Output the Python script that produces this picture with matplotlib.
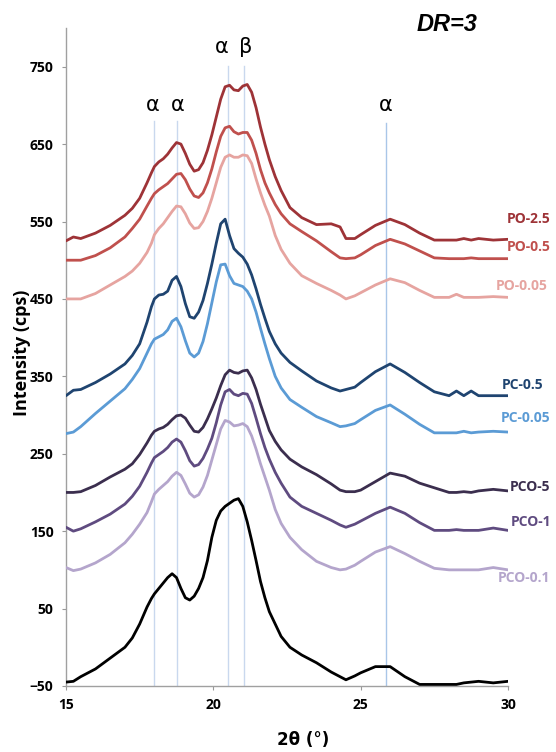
import matplotlib
matplotlib.use("Agg")
import matplotlib.pyplot as plt

# 2-theta (degrees)
two_theta = [15, 15.25, 15.5, 16, 16.5, 17, 17.25, 17.5, 17.75, 17.9,
             18.0, 18.15, 18.3, 18.45, 18.6, 18.75, 18.9, 19.05, 19.2, 19.35,
             19.5, 19.65, 19.8, 19.95, 20.1, 20.25, 20.4, 20.55, 20.7, 20.85,
             21.0, 21.15, 21.3, 21.45, 21.6, 21.75, 21.9, 22.1, 22.3, 22.6,
             23, 23.5, 24, 24.3, 24.5, 24.8, 25, 25.5, 26, 26.5,
             27, 27.5, 28, 28.25, 28.5, 28.75, 29, 29.5, 30]

po_2_5 = [525, 530, 528, 535, 545, 558, 567, 580, 600, 613,
          621, 627, 631, 637, 645, 652, 650, 638, 624, 615,
          617, 626, 642, 662, 685, 708, 724, 726, 720, 719,
          725, 727, 717, 697, 672, 650, 630, 608, 590, 568,
          555, 546, 547, 543, 528, 528, 533, 545, 553, 546,
          535, 526, 526, 526, 528, 526, 528, 526, 527]
po_0_5 = [500, 500, 500, 506, 516, 530, 541, 553, 570, 580,
          586, 591, 595, 599, 605, 611, 612, 604, 592, 583,
          581, 587, 600, 618, 640, 660, 671, 673, 666, 663,
          665, 665, 655, 638, 617, 600, 587, 572, 560, 547,
          537, 525, 511, 503, 502, 503, 507, 519, 527, 521,
          512, 503, 502, 502, 502, 503, 502, 502, 502]
po_0_05 = [450, 450, 450, 457, 468, 479, 486, 496, 510, 522,
           533, 541, 547, 555, 563, 570, 569, 560, 548, 541,
           542, 550, 563, 580, 600, 620, 633, 636, 633, 633,
           636, 635, 625, 605, 587, 571, 557, 532, 514, 496,
           480, 470, 461, 455, 450, 454, 458, 468, 476, 471,
           461, 452, 452, 456, 452, 452, 452, 453, 452]
pc_0_5 = [325, 332, 333, 342, 353, 366, 377, 392, 420, 440,
          450, 455, 456, 460, 474, 479, 466, 444, 427, 425,
          433, 448, 470, 495, 522, 547, 553, 532, 515, 509,
          504, 495, 481, 463, 443, 425, 408, 392, 380, 368,
          357, 344, 335, 331, 333, 336, 342, 356, 366, 355,
          342, 330, 325, 331, 325, 331, 325, 325, 325]
pc_0_05 = [276, 278, 285, 302, 318, 334, 346, 360, 380, 392,
           398, 401, 404, 410, 421, 425, 414, 396, 380, 375,
           380, 395, 418, 445, 472, 494, 495, 480, 470, 468,
           466, 460, 450, 433, 412, 392, 373, 350, 335, 320,
           310, 298, 290, 285, 286, 289, 294, 306, 313, 301,
           288, 277, 277, 277, 279, 277, 278, 279, 278]
pco_5 = [200, 200, 201, 209, 220, 230, 237, 249, 264, 274,
         279, 282, 284, 288, 294, 299, 300, 296, 287, 279,
         278, 284, 295, 308, 322, 338, 352, 358, 355, 354,
         357, 358, 348, 333, 314, 297, 280, 266, 255, 243,
         233, 223, 211, 203, 201, 201, 203, 214, 225, 221,
         212, 206, 200, 200, 201, 200, 202, 204, 202]
pco_1 = [155, 150, 153, 162, 172, 185, 195, 208, 226, 238,
         245, 249, 253, 258, 265, 269, 265, 254, 241, 234,
         236, 244, 256, 270, 290, 313, 330, 333, 327, 325,
         328, 327, 315, 296, 276, 258, 243, 226, 212, 194,
         182, 173, 164, 158, 155, 159, 163, 173, 181, 173,
         161, 151, 151, 152, 151, 151, 151, 154, 151]
pco_0_1 = [103, 99, 101, 109, 120, 135, 146, 159, 174, 188,
           198, 204, 209, 214, 221, 226, 222, 211, 199, 194,
           197, 207, 222, 242, 262, 282, 293, 291, 286, 287,
           289, 285, 273, 256, 237, 220, 203, 178, 160, 142,
           126, 111, 103, 100, 101, 106, 111, 123, 130, 121,
           111, 102, 100, 100, 100, 100, 100, 103, 100]
reference = [-45, -44, -38, -28, -14, 0, 12, 30, 52, 63,
             69, 76, 83, 90, 95, 90, 76, 64, 61, 66,
             76, 90, 112, 142, 164, 176, 182, 186, 190, 192,
             182, 162, 138, 112, 85, 64, 46, 30, 14, 0,
             -10, -20, -32, -38, -42, -37, -33, -25, -25, -38,
             -48, -48, -48, -48, -46, -45, -44, -46, -44]

series_names = ["PO-2.5", "PO-0.5", "PO-0.05", "PC-0.5", "PC-0.05", "PCO-5", "PCO-1", "PCO-0.1", ""]
series_values = [po_2_5, po_0_5, po_0_05, pc_0_5, pc_0_05, pco_5, pco_1, pco_0_1, reference]
series_colors = ["#9e3337", "#c0504d", "#e6a4a0", "#1f4470", "#5b9bd5", "#3b2e4e", "#5f4b80", "#b4a5cc", "#000000"]

label_y = [553, 517, 467, 339, 296, 207, 162, 90]
label_x = [29.95, 29.95, 29.6, 29.8, 29.75, 30.05, 30.1, 29.65]

peak_lines = [18.0, 18.75, 20.5, 21.05, 25.85]
line_tops = [680, 680, 751, 751, 677]
greek_x = [17.95, 18.78, 20.3, 21.1, 25.85]
greek_y = [700, 700, 775, 775, 700]
greek_txt = ["α", "α", "α", "β", "α"]

fig = plt.figure(figsize=(5.56, 7.52), dpi=100)
ax = fig.add_axes([0.1187, 0.0878, 0.795, 0.875])

for i, (xv, top) in enumerate(zip(peak_lines, line_tops)):
    col = "#a9c6e8" if i == 4 else "#c9d8ee"
    ax.plot([xv, xv], [-50, top], color=col, lw=1.0, zorder=1)

for vals, col in zip(series_values, series_colors):
    ax.plot(two_theta, vals, color=col, lw=2.0, zorder=3,
            solid_joinstyle="round", solid_capstyle="round")

for name, col, lx, ly in zip(series_names, series_colors, label_x, label_y):
    ax.text(lx, ly, name, color=col, fontsize=10, fontweight="bold", family="Open Sans",
            ha="left", va="center", clip_on=False)

for gx, gy, gt in zip(greek_x, greek_y, greek_txt):
    ax.text(gx, gy, gt, fontsize=15, ha="center", va="center", family="DejaVu Sans", clip_on=False)

fig.text(0.804, 0.967, "DR=3", fontsize=17, fontweight="bold", fontstyle="italic",
         family="Liberation Sans", ha="center", va="center")

ax.set_xlim(15, 30)
ax.set_ylim(-50, 800)
ax.set_xticks([15, 20, 25, 30])
ax.set_yticks(list(range(-50, 751, 100)))
for lab in ax.get_xticklabels() + ax.get_yticklabels():
    lab.set_fontweight("bold")
    lab.set_fontsize(10)
    lab.set_family("Open Sans")
ax.tick_params(axis="both", direction="out", length=3, color="#999999", width=0.8, pad=6)
for s in ["top", "right"]:
    ax.spines[s].set_visible(False)
for s in ["left", "bottom"]:
    ax.spines[s].set_color("#a0a0a0")
    ax.spines[s].set_linewidth(1.0)

fig.text(22 / 556, 1 - 353 / 752, "Intensity (cps)", rotation=90, fontsize=13, fontweight="bold",
         family="Open Sans", ha="center", va="center")
fig.text(303 / 556, 1 - 740 / 752, "2θ (°)", fontsize=12, fontweight="bold", family="DejaVu Sans",
         ha="center", va="center")

fig.savefig("out.png", dpi=100)
